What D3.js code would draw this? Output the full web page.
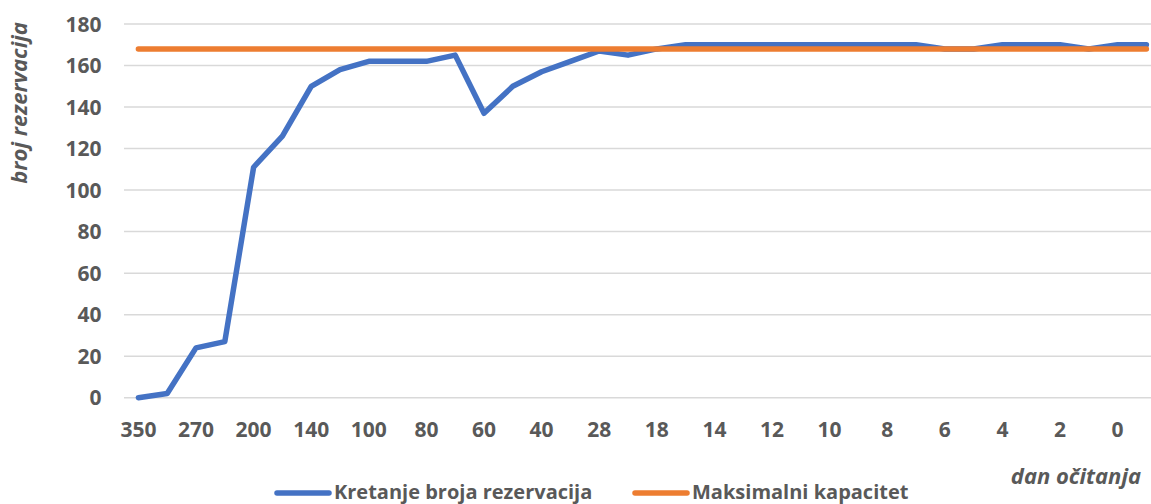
<!DOCTYPE html>
<html>
<head>
<meta charset="utf-8">
<script src="https://cdn.jsdelivr.net/npm/d3@7"></script>
<style>
body { margin: 0; background: #fff; }
svg text { font-family: "Open Sans", sans-serif; font-weight: bold; fill: #595959; }
</style>
</head>
<body>
<svg id="chart" width="1151" height="504"></svg>
<script>
// dan očitanja (only every other one is labelled on the axis)
const days = ["350", "300", "270", "240", "200", "170", "140", "120", "100", "90",
              "80", "70", "60", "50", "40", "30", "28", "21", "18", "16",
              "14", "13", "12", "11", "10", "9", "8", "7", "6", "5",
              "4", "3", "2", "1", "0", "-1"];
const bookings = [0, 2, 24, 27, 111, 126, 150, 158, 162, 162,
                  162, 165, 137, 150, 157, 162, 167, 165, 168, 170,
                  170, 170, 170, 170, 170, 170, 170, 170, 168, 168,
                  170, 170, 170, 168, 170, 170];
const capacity = [168, 168, 168, 168, 168, 168, 168, 168, 168, 168,
                  168, 168, 168, 168, 168, 168, 168, 168, 168, 168,
                  168, 168, 168, 168, 168, 168, 168, 168, 168, 168,
                  168, 168, 168, 168, 168, 168];
const yTicks = [0, 20, 40, 60, 80, 100, 120, 140, 160, 180];
const seriesNames = ["Kretanje broja rezervacija", "Maksimalni kapacitet"];
const colors = ["#4472C4", "#ED7D31"];

const svg = d3.select("#chart");
const plot = { left: 124, top: 24, bottom: 397.7, step: 28.8 };

const x = d3.scaleBand()
    .domain(d3.range(days.length))
    .range([plot.left, plot.left + plot.step * days.length]);
const y = d3.scaleLinear().domain([0, 180]).range([plot.bottom, plot.top]);
const cx = i => x(i) + x.bandwidth() / 2;

// gridlines
svg.append("g").selectAll("line")
    .data(yTicks)
    .join("line")
    .attr("x1", plot.left)
    .attr("x2", x.range()[1])
    .attr("y1", d => y(d))
    .attr("y2", d => y(d))
    .attr("stroke", "#d9d9d9")
    .attr("stroke-width", 1.5);

// y tick labels
svg.append("g").selectAll("text")
    .data(yTicks)
    .join("text")
    .attr("x", 101.5)
    .attr("y", d => y(d))
    .attr("dy", "0.36em")
    .attr("text-anchor", "end")
    .style("font-size", "21px")
    .text(d => d);

// x tick labels, every other day
svg.append("g").selectAll("text")
    .data(d3.range(0, days.length, 2).filter(i => i < 35))
    .join("text")
    .attr("x", i => cx(i))
    .attr("y", 429)
    .attr("dy", "0.36em")
    .attr("text-anchor", "middle")
    .style("font-size", "21px")
    .text(i => days[i]);

// axis titles
svg.append("text")
    .attr("transform", "translate(19,103) rotate(-90)")
    .attr("dy", "0.36em")
    .attr("text-anchor", "middle")
    .style("font-size", "22px")
    .style("font-style", "italic")
    .text("broj rezervacija");

svg.append("text")
    .attr("x", 1141)
    .attr("y", 476)
    .attr("dy", "0.36em")
    .attr("text-anchor", "end")
    .style("font-size", "22px")
    .style("font-style", "italic")
    .text("dan očitanja");

// lines
const line = d3.line().x((d, i) => cx(i)).y(d => y(d));
[bookings, capacity].forEach((s, k) => {
  svg.append("path")
      .datum(s)
      .attr("d", line)
      .attr("fill", "none")
      .attr("stroke", colors[k])
      .attr("stroke-width", 5.5)
      .attr("stroke-linecap", "round")
      .attr("stroke-linejoin", "round");
});

// legend
const legendX = [277, 635];
const leg = svg.append("g").selectAll("g")
    .data(seriesNames)
    .join("g")
    .attr("transform", (d, i) => `translate(${legendX[i]},493)`);
leg.append("line")
    .attr("x1", 0).attr("x2", 52)
    .attr("stroke", (d, i) => colors[i])
    .attr("stroke-width", 5.5)
    .attr("stroke-linecap", "round");
leg.append("text")
    .attr("x", 57)
    .attr("y", -1)
    .attr("dy", "0.36em")
    .style("font-size", "20px")
    .text(d => d);
</script>
</body>
</html>
